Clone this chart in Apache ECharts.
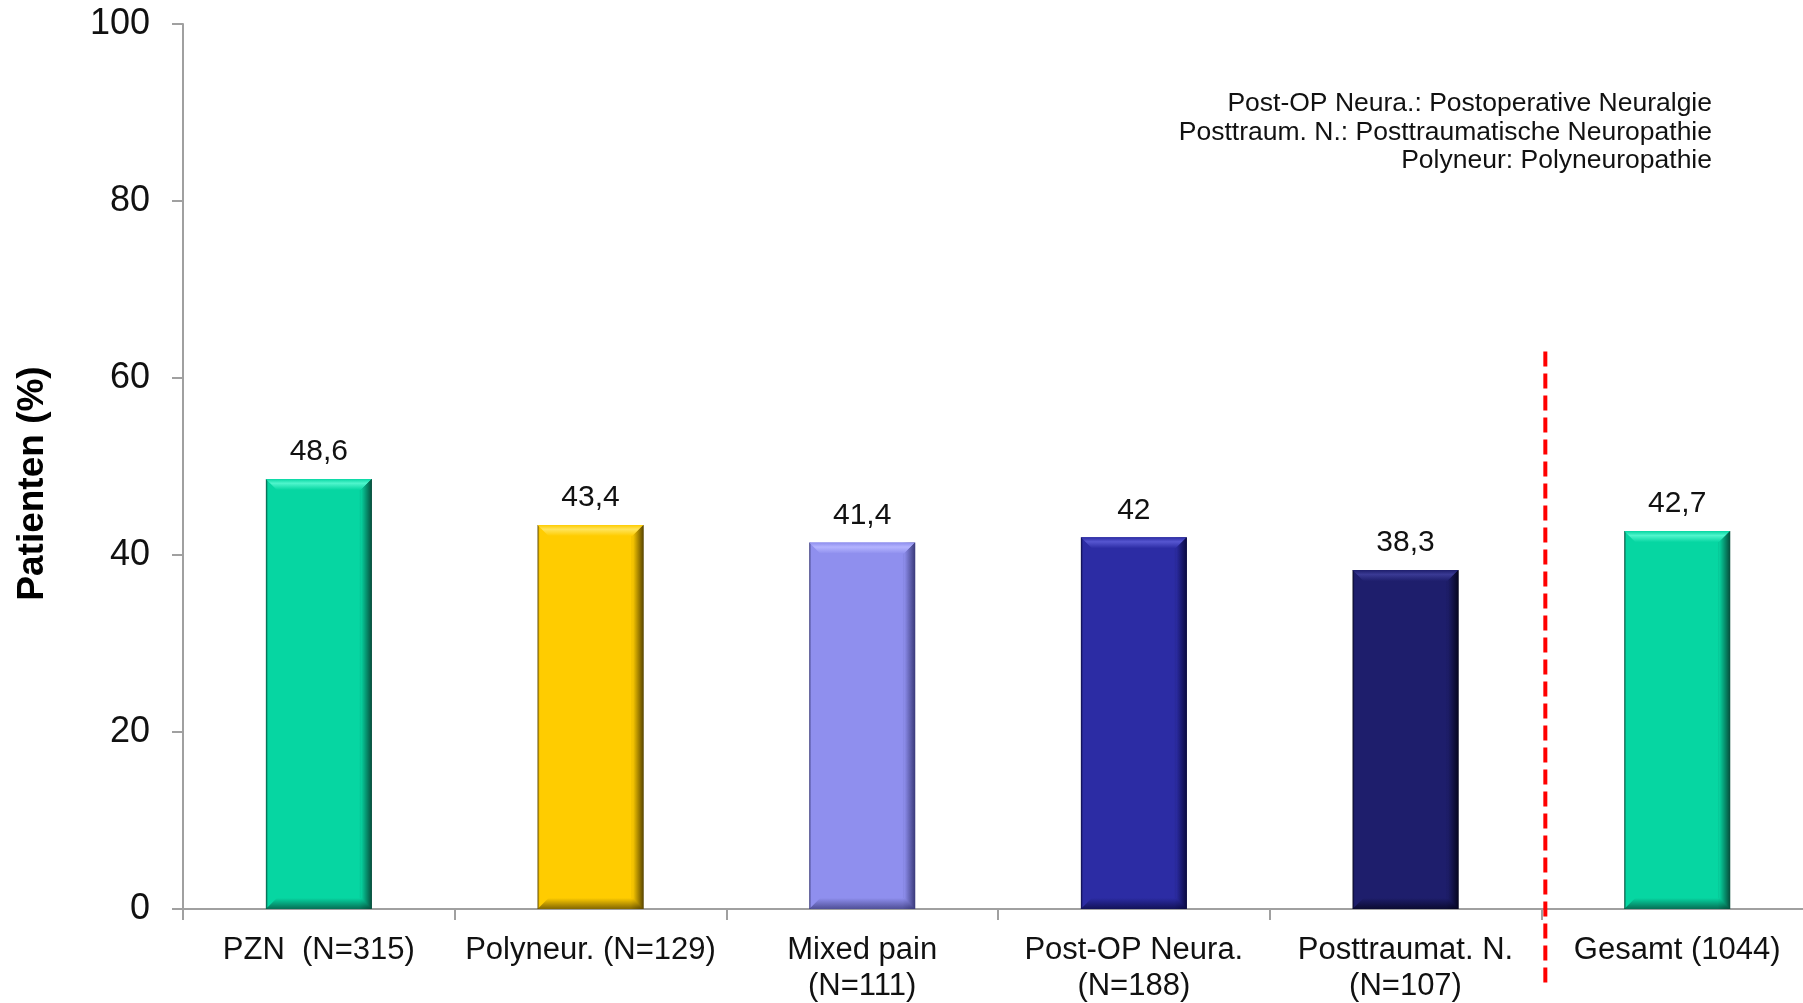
<!DOCTYPE html>
<html>
<head>
<meta charset="utf-8">
<script src="https://cdn.jsdelivr.net/npm/echarts@6/dist/echarts.min.js"></script>
<style>
  html, body { margin: 0; padding: 0; background: #fff; }
  #chart { width: 1803px; height: 1003px; }
</style>
</head>
<body>
<div id="chart"></div>
<script>
const categories = ['PZN  (N=315)', 'Polyneur. (N=129)', 'Mixed pain\n(N=111)', 'Post-OP Neura.\n(N=188)', 'Posttraumat. N.\n(N=107)', 'Gesamt (1044)'];
const values = [48.6, 43.4, 41.4, 42, 38.3, 42.7];
const yTicks = [0, 20, 40, 60, 80, 100];
const notes = ['Post-OP Neura.: Postoperative Neuralgie', 'Posttraum. N.: Posttraumatische Neuropathie', 'Polyneur: Polyneuropathie'];

// main / light / dark per bar
const palette = [
  ['#06d6a2', '#4ff5cc', '#064d3b'],
  ['#ffcc00', '#ffe45a', '#5a4600'],
  ['#8f8fee', '#b4b4ff', '#3a3a7a'],
  ['#2c2ca4', '#5656d0', '#0a0a40'],
  ['#1e1e6c', '#3a3a94', '#05051e'],
  ['#06d6a2', '#4ff5cc', '#064d3b']
];

const FONT = '"Liberation Sans", Arial, sans-serif';
const fmt = v => String(v).replace('.', ',');

const chart = echarts.init(document.getElementById('chart'));

function renderBar(params, api) {
  const i = api.value(0);
  const v = api.value(1);
  const top = api.coord([i, v]);
  const base = api.coord([i, 0]);
  const w = api.size([1, 0])[0] * 0.39;
  const x0 = top[0] - w / 2, x1 = top[0] + w / 2;
  const y0 = top[1], y1 = base[1];
  const b = 11;
  const c = palette[i];
  const lin = (x, y, x2, y2, stops) => ({ type: 'linear', x, y, x2, y2, colorStops: stops });
  return {
    type: 'group',
    children: [
      {
        type: 'rect',
        shape: { x: x0, y: y0, width: w, height: y1 - y0 },
        style: {
          fill: lin(0, 0, 1, 0, [
            { offset: 0, color: c[2] },
            { offset: 0.02, color: c[0] },
            { offset: 0.88, color: c[0] },
            { offset: 1, color: c[2] }
          ])
        },
        textContent: {
          style: { text: fmt(v), fill: '#111', font: '30px ' + FONT }
        },
        textConfig: { position: 'top', distance: 12 }
      },
      {
        type: 'polygon',
        shape: { points: [[x0, y0], [x1, y0], [x1 - b, y0 + b], [x0 + b, y0 + b]] },
        style: { fill: lin(0, 0, 0, 1, [{ offset: 0, color: c[0] }, { offset: 0.4, color: c[1] }, { offset: 1, color: c[0] }]) }
      },
      {
        type: 'polygon',
        shape: { points: [[x0, y1], [x1, y1], [x1 - b, y1 - b], [x0 + b, y1 - b]] },
        style: { fill: lin(0, 0, 0, 1, [{ offset: 0, color: c[0] }, { offset: 1, color: c[2] }]), opacity: 0.75 }
      },
      {
        type: 'polygon',
        shape: { points: [[x1, y0], [x1, y1], [x1 - b, y1 - b], [x1 - b, y0 + b]] },
        style: { fill: lin(0, 0, 1, 0, [{ offset: 0, color: c[0] }, { offset: 1, color: c[2] }]) }
      }
    ]
  };
}

chart.setOption({
  animation: false,
  grid: { left: 183, top: 24, width: 1630, height: 885, outerBoundsMode: 'none' },
  xAxis: {
    type: 'category',
    data: categories,
    axisLine: { lineStyle: { color: '#a0a0a0', width: 2 } },
    axisTick: { show: true, length: 11, lineStyle: { color: '#a0a0a0', width: 2 } },
    axisLabel: { interval: 0, color: '#111', fontFamily: FONT, fontSize: 31, lineHeight: 36, margin: 23 }
  },
  yAxis: {
    type: 'value',
    min: 0,
    max: 100,
    interval: 20,
    name: 'Patienten (%)',
    nameLocation: 'middle',
    nameGap: 132,
    nameTextStyle: { color: '#000', fontFamily: FONT, fontSize: 37, fontWeight: 'bold', padding: [0, 0, 0, -34] },
    axisLine: { show: true, lineStyle: { color: '#a0a0a0', width: 2 } },
    axisTick: { show: true, length: 11, lineStyle: { color: '#a0a0a0', width: 2 } },
    splitLine: { show: false },
    axisLabel: {
      color: '#111', fontFamily: FONT, fontSize: 36, margin: 33,
      formatter: v => (yTicks.includes(v) ? String(v) : '')
    }
  },
  series: [{
    type: 'custom',
    renderItem: renderBar,
    data: values.map((v, i) => [i, v]),
    encode: { x: 0, y: 1 }
  }]
});

// annotation: dashed separator and abbreviation notes, positioned through the axes
const band = chart.convertToPixel({ xAxisIndex: 0 }, 1) - chart.convertToPixel({ xAxisIndex: 0 }, 0);
const sepX = chart.convertToPixel({ xAxisIndex: 0 }, 5) - band / 2 + 4;
const sepTop = chart.convertToPixel({ yAxisIndex: 0 }, 63);
const sepBottom = chart.convertToPixel({ yAxisIndex: 0 }, 0) + 80;

chart.setOption({
  graphic: [
    {
      type: 'line',
      shape: { x1: sepX, y1: sepTop, x2: sepX, y2: sepBottom },
      style: { stroke: '#ff0000', lineWidth: 4, lineDash: [15, 7] },
      z: 10
    }
  ].concat(notes.map((t, k) => ({
    type: 'text',
    x: 1712,
    y: 104 + k * 28.5,
    style: {
      text: t,
      fill: '#111',
      font: '26.5px ' + FONT,
      align: 'right',
      verticalAlign: 'middle'
    }
  })))
});
</script>
</body>
</html>
